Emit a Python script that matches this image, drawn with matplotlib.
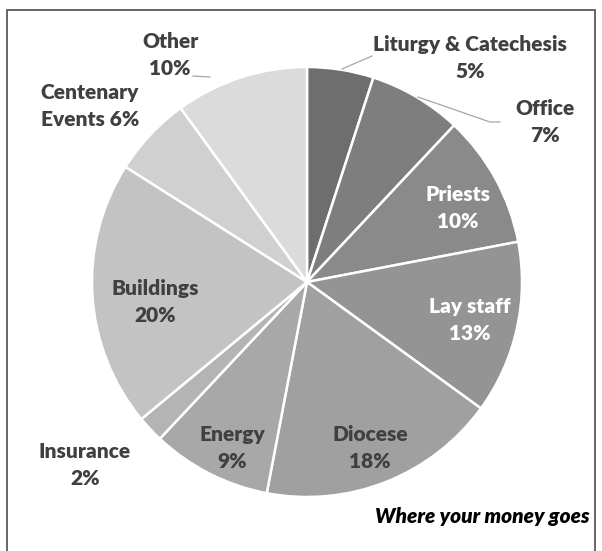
import matplotlib.pyplot as plt
from matplotlib.patches import Rectangle

labels = ['Liturgy & Catechesis', 'Office', 'Priests', 'Lay staff', 'Diocese',
          'Energy', 'Insurance', 'Buildings', 'Centenary\nEvents', 'Other']
shares = [5, 7, 10, 13, 18, 9, 2, 20, 6, 10]
colors = ['#6e6e6e', '#7e7e7e', '#8a8a8a', '#949494', '#a0a0a0',
          '#a8a8a8', '#b4b4b4', '#c3c3c3', '#d0d0d0', '#dbdbdb']

plt.rcParams['font.family'] = ['Lato', 'DejaVu Sans']

W, H = 602, 551
cx, cy, R = 307, 282, 215

def px(x, y):
    return (x - cx) / R, (cy - y) / R

fig = plt.figure(figsize=(W / 100, H / 100), dpi=100)
ax = fig.add_axes([0, 0, 1, 1])
ax.pie(shares, colors=colors, startangle=90, counterclock=False, radius=1,
       wedgeprops=dict(edgecolor='white', linewidth=1.8))
ax.set_xlim(-cx / R, (W - cx) / R)
ax.set_ylim(-(H - cy) / R, cy / R)
ax.set_aspect('equal')
ax.axis('off')

# label positions (pixel coords of text centre) and text colours
pos = [(470, 58), (545, 122), (458, 208), (470, 320), (370, 448),
       (232, 448), (85, 465), (155, 302), (90, 106), (170, 55)]
tcol = ['#404040', '#404040', 'white', 'white', '#404040',
        '#404040', '#404040', '#404040', '#404040', '#404040']
for lab, s, p, c in zip(labels, shares, pos, tcol):
    if lab.startswith('Centenary'):
        txt = 'Centenary\nEvents %d%%' % s
    else:
        txt = '%s\n%d%%' % (lab, s)
    x, y = px(*p)
    ax.text(x, y, txt, ha='center', va='center', fontsize=15, fontweight='heavy',
            color=c, linespacing=1.45)

# leader lines
for pts in [[(342, 69), (372, 56)], [(418, 97), (490, 122), (500, 122)],
            [(210, 77), (193, 76)]]:
    xs, ys = zip(*[px(*q) for q in pts])
    ax.plot(xs, ys, color='#a6a6a6', lw=0.9)

x, y = px(590, 517)
ax.text(x, y, 'Where your money goes', ha='right', va='center', fontsize=15,
        fontweight='heavy', style='italic', color='black')

fig.add_artist(Rectangle((7 / W, -0.01), (595 - 7) / W, 1 - 10 / H + 0.01,
                         transform=fig.transFigure, fill=False,
                         edgecolor='#595959', lw=1.3))

fig.savefig('out.png', dpi=100)
